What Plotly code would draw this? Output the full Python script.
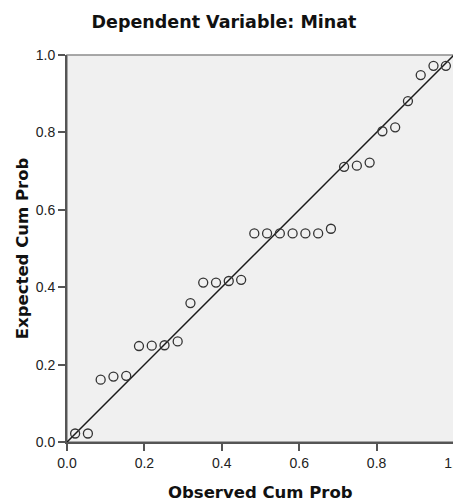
import plotly.graph_objects as go

observed_cum_prob = [0.021, 0.054, 0.087, 0.120, 0.153, 0.186, 0.219, 0.252, 0.286, 0.319,
                     0.352, 0.385, 0.418, 0.450, 0.484, 0.517, 0.550, 0.583, 0.616, 0.649,
                     0.682, 0.716, 0.749, 0.782, 0.815, 0.848, 0.881, 0.914, 0.947, 0.979]
expected_cum_prob = [0.022, 0.022, 0.161, 0.169, 0.171, 0.248, 0.249, 0.250, 0.260, 0.359,
                     0.412, 0.412, 0.416, 0.419, 0.539, 0.539, 0.539, 0.539, 0.539, 0.539,
                     0.551, 0.711, 0.714, 0.722, 0.803, 0.813, 0.881, 0.948, 0.972, 0.972]
ref_line = [0, 1]
tick_vals = [0.0, 0.2, 0.4, 0.6, 0.8, 1.0]
tick_text = ["0.0", "0.2", "0.4", "0.6", "0.8", "1.0"]

FONT = "Liberation Sans, Arial, sans-serif"
BOLD_FONT = "DejaVu Sans, Verdana, sans-serif"

# page body has an 8px default margin, so the figure is sized to fill the rest
W, H = 453, 496

fig = go.Figure()
fig.add_trace(go.Scatter(x=ref_line, y=ref_line, mode="lines",
                         line=dict(color="#1a1a1a", width=1.5),
                         hoverinfo="skip", showlegend=False, cliponaxis=False))
fig.add_trace(go.Scatter(x=observed_cum_prob, y=expected_cum_prob, mode="markers",
                         marker=dict(symbol="circle-open", size=9,
                                     color="#333333", line=dict(width=1.3, color="#333333")),
                         showlegend=False, cliponaxis=False))

fig.add_shape(type="rect", xref="paper", yref="paper", x0=0, y0=0, x1=1, y1=1,
              line=dict(color="#8c8c8c", width=1.5), layer="below")

axis_common = dict(range=[0, 1], tickvals=tick_vals, ticktext=tick_text,
                   showgrid=False, zeroline=False, showline=True, automargin=False,
                   linecolor="#555555", linewidth=2, ticks="outside",
                   ticklen=7, tickwidth=1.5, tickcolor="#555555",
                   ticklabeloverflow="allow",
                   tickfont=dict(family=FONT, size=14, color="#222222"))

fig.update_layout(
    width=W, height=H,
    margin=dict(l=59, r=7, t=47, b=62),
    paper_bgcolor="white", plot_bgcolor="#f0f0f0",
    title=dict(text="<b>Dependent Variable: Minat</b>", x=216/W, xanchor="center",
               y=1 - 14/H, yanchor="middle",
               font=dict(family=BOLD_FONT, size=17.5, color="#111111")),
    xaxis=dict(**axis_common),
    yaxis=dict(**axis_common),
)

fig.add_annotation(text="<b>Observed Cum Prob</b>", xref="paper", yref="paper",
                   x=0.5, y=-0.131, xanchor="center", yanchor="middle", showarrow=False,
                   font=dict(family=BOLD_FONT, size=16.5, color="#111111"))
fig.add_annotation(text="<b>Expected Cum Prob</b>", xref="paper", yref="paper",
                   x=-0.1146, y=0.5, xanchor="center", yanchor="middle", showarrow=False,
                   textangle=-90,
                   font=dict(family=BOLD_FONT, size=16.5, color="#111111"))

fig.write_html("out.html")
